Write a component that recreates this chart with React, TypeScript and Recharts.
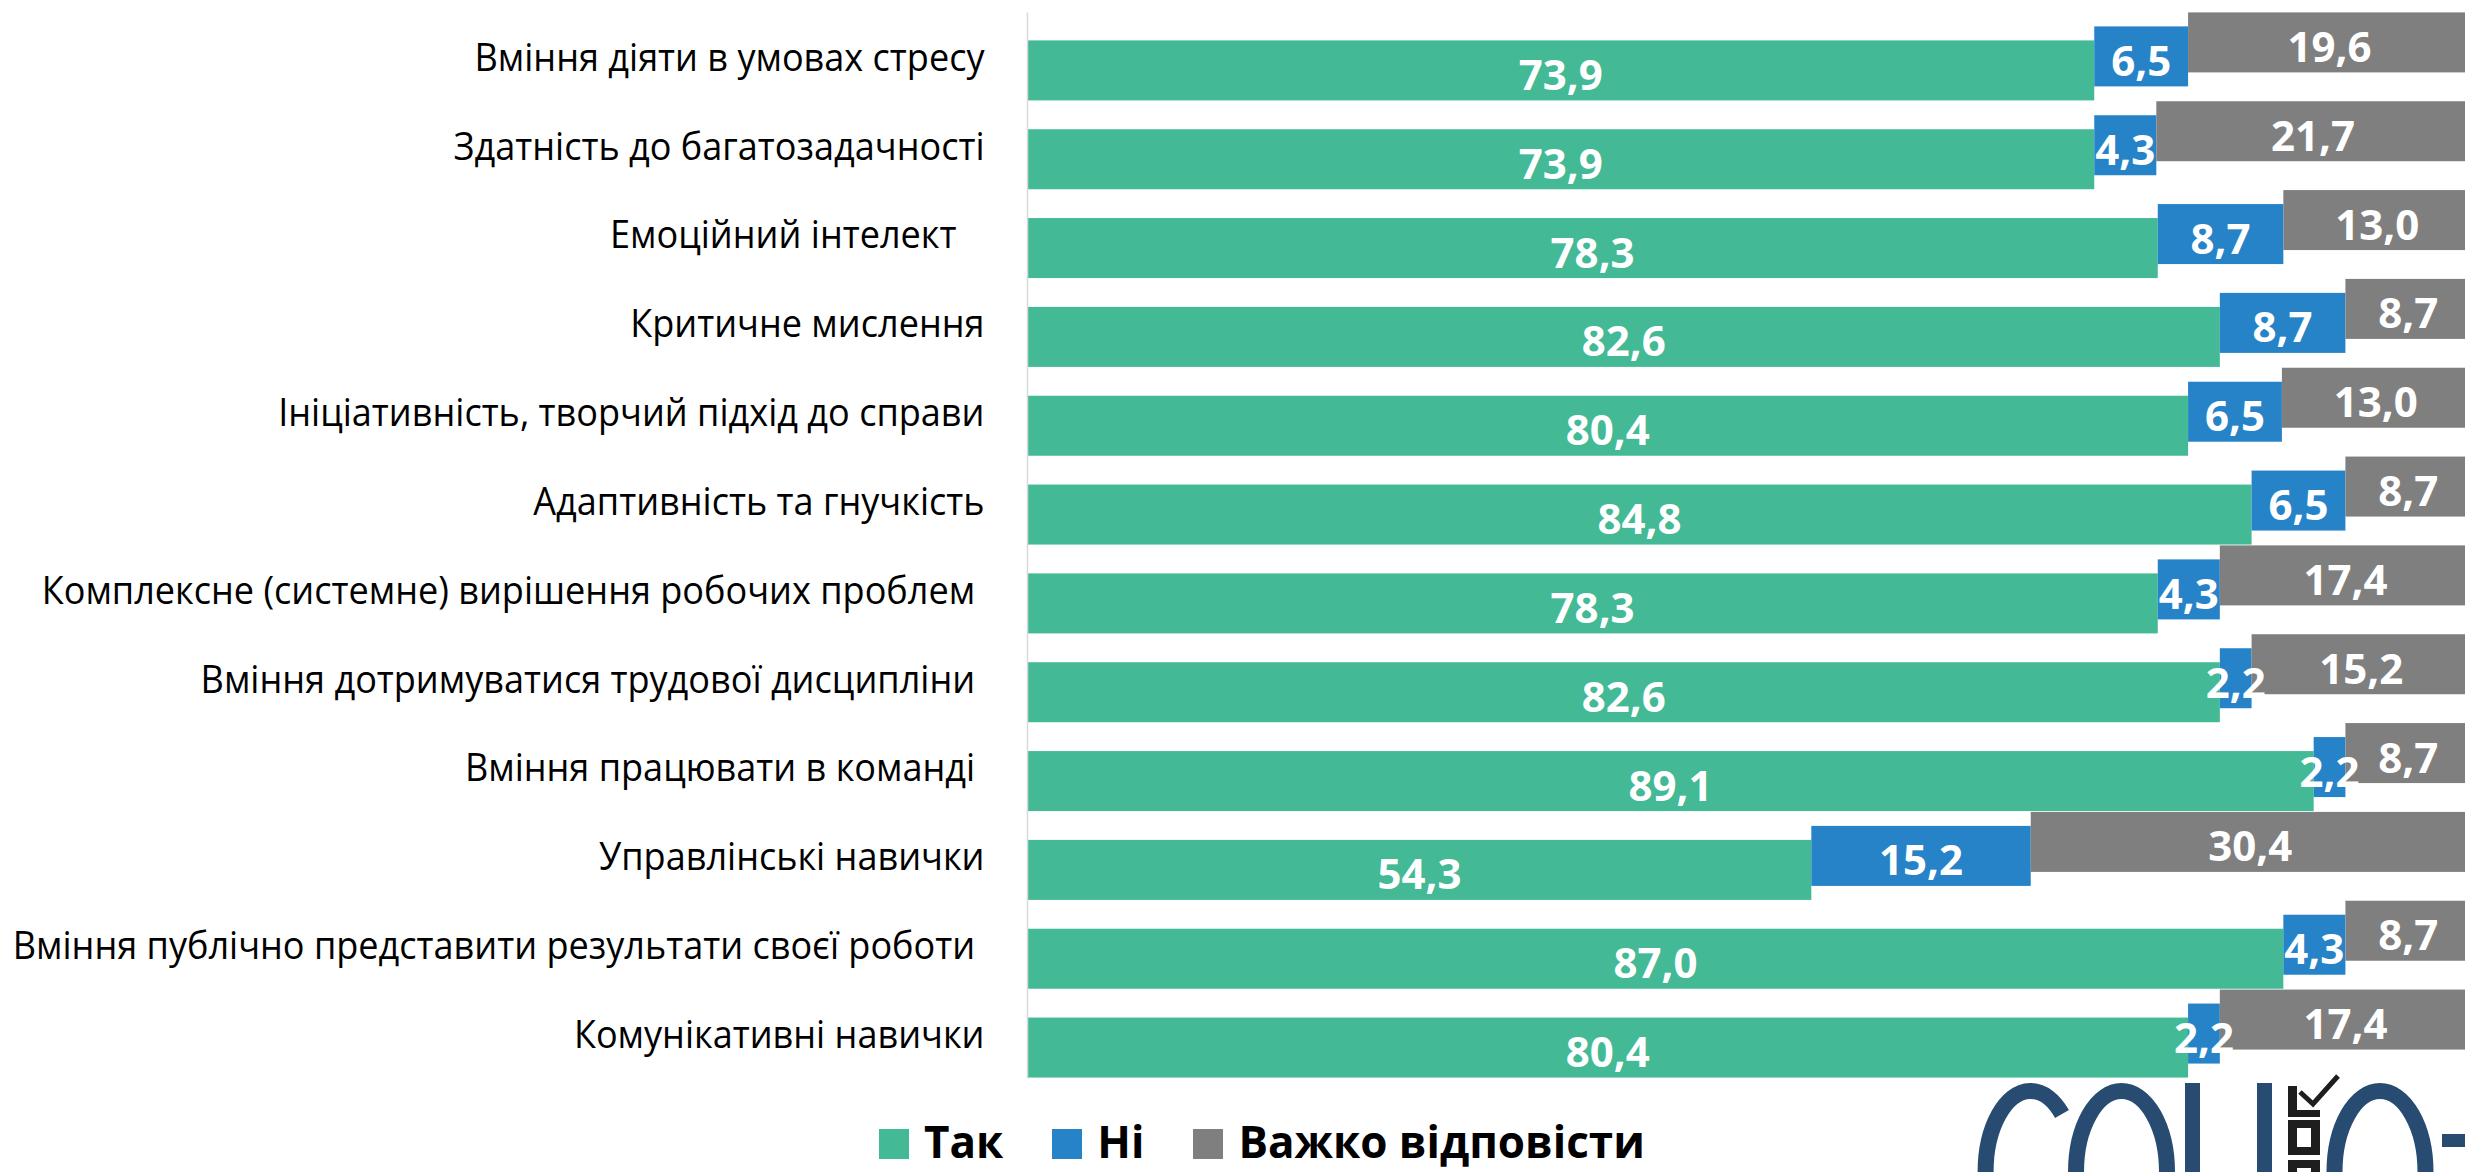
import React from 'react';
import { BarChart, Bar, XAxis, YAxis, Legend, LabelList } from 'recharts';

const categories = [
  'Вміння діяти в умовах стресу',
  'Здатність до багатозадачності',
  'Емоційний інтелект   ',
  'Критичне мислення',
  'Ініціативність, творчий підхід до справи',
  'Адаптивність та гнучкість',
  'Комплексне (системне) вирішення робочих проблем ',
  'Вміння дотримуватися трудової дисципліни ',
  'Вміння працювати в команді ',
  'Управлінські навички',
  'Вміння публічно представити результати своєї роботи ',
  'Комунікативні навички',
];
const yesValues = [73.9, 73.9, 78.3, 82.6, 80.4, 84.8, 78.3, 82.6, 89.1, 54.3, 87.0, 80.4];
const noValues = [6.5, 4.3, 8.7, 8.7, 6.5, 6.5, 4.3, 2.2, 2.2, 15.2, 4.3, 2.2];
const hardValues = [19.6, 21.7, 13.0, 8.7, 13.0, 8.7, 17.4, 15.2, 8.7, 30.4, 8.7, 17.4];
const seriesNames = ['Так', 'Ні', 'Важко відповісти'];

const GREEN = '#43B995';
const BLUE = '#2783C7';
const GRAY = '#7F7F7F';
const seriesColors = [GREEN, BLUE, GRAY];

const data = categories.map((name, i) => ({
  name,
  yes: yesValues[i],
  no: noValues[i],
  hard: hardValues[i],
}));

const fmt = (v: number) => Number(v).toFixed(1).replace('.', ',');

const makeShape = (dy: number) => (props: any) => {
  const { x, y, width, height, fill } = props;
  if (!width || width <= 0) return <g />;
  return <rect x={x} y={y + dy} width={width} height={height} fill={fill} />;
};

const makeLabel = (dy: number) => (props: any) => {
  const { x, y, width, height, value } = props;
  return (
    <text
      x={Number(x) + Number(width) / 2}
      y={Number(y) + dy + Number(height) / 2 + 19.5}
      textAnchor="middle"
      fill="#FFFFFF"
      fontFamily="Open Sans"
      fontWeight={700}
      fontSize={42}
    >
      {fmt(value)}
    </text>
  );
};

const CategoryTick = (props: any) => {
  const { x, y, payload } = props;
  return (
    <g transform={`translate(${x},${Number(y) + 14})`}>
      <text
        transform="scale(0.925,1)"
        textAnchor="end"
        fontFamily="Open Sans"
        fontSize={39}
        fill="#000000"
        style={{ whiteSpace: 'pre' }}
      >
        {payload.value}
      </text>
    </g>
  );
};

const LegendContent = () => (
  <div
    style={{
      display: 'flex',
      alignItems: 'center',
      fontFamily: 'Open Sans',
      fontWeight: 700,
      fontSize: 44,
      lineHeight: '42px',
      height: 42,
      color: '#000',
      whiteSpace: 'nowrap',
    }}
  >
    {seriesNames.map((name, i) => (
      <div key={name} style={{ display: 'flex', alignItems: 'center', marginRight: 49 }}>
        <span
          style={{
            display: 'inline-block',
            width: 30,
            height: 30,
            background: seriesColors[i],
            marginRight: 15,
            marginTop: 6,
          }}
        />
        <span>{name}</span>
      </div>
    ))}
  </div>
);

const Logo = () => (
  <svg
    width={2465}
    height={1172}
    style={{ position: 'absolute', left: 0, top: 0, pointerEvents: 'none' }}
  >
    <g fill="none" stroke="#284B72" strokeWidth={16}>
      <path d="M 2062 1114 A 45 81 0 1 0 2062 1230" />
      <ellipse cx={2121.5} cy={1172} rx={45.5} ry={81} />
      <ellipse cx={2380} cy={1172} rx={45.5} ry={81} />
    </g>
    <g fill="#284B72">
      <rect x={2185} y={1083} width={15} height={100} />
      <rect x={2257} y={1083} width={15} height={100} />
      <rect x={2442} y={1134} width={30} height={13} />
    </g>
    <g fill="#1E1E1E">
      <rect x={2288} y={1086} width={9} height={31} />
      <rect x={2288} y={1110} width={32} height={7} />
      <rect x={2288} y={1120} width={32} height={35} />
      <rect x={2288} y={1160} width={32} height={20} />
    </g>
    <g fill="#FFFFFF">
      <rect x={2297} y={1128} width={14} height={19} />
      <rect x={2297} y={1168} width={14} height={12} />
    </g>
    <polyline points="2300,1092 2313,1104 2338,1076" fill="none" stroke="#1E1E1E" strokeWidth={5} />
  </svg>
);

export default function App() {
  return (
    <div
      style={{
        position: 'absolute',
        left: 0,
        top: 0,
        width: 2465,
        height: 1172,
        overflow: 'hidden',
        background: '#FFFFFF',
      }}
    >
      <BarChart
        width={2471}
        height={1172}
        data={data}
        layout="vertical"
        margin={{ top: 12.4, right: 0, bottom: 93.6, left: 0 }}
        barSize={60}
      >
        <XAxis type="number" domain={[0, 100]} hide />
        <YAxis
          type="category"
          dataKey="name"
          width={1027.5}
          axisLine={{ stroke: '#D9D9D9', strokeWidth: 1.5 }}
          tickLine={false}
          tickSize={0}
          tickMargin={43}
          tick={<CategoryTick />}
          interval={0}
        />
        <Legend
          verticalAlign="middle"
          align="center"
          layout="horizontal"
          content={<LegendContent />}
          wrapperStyle={{ left: 879, top: 1120, width: 1200, height: 42 }}
        />
        <Bar dataKey="yes" name={seriesNames[0]} stackId="a" fill={GREEN} shape={makeShape(14)} isAnimationActive={false}>
          <LabelList dataKey="yes" content={makeLabel(14)} />
        </Bar>
        <Bar dataKey="no" name={seriesNames[1]} stackId="a" fill={BLUE} shape={makeShape(0)} isAnimationActive={false}>
          <LabelList dataKey="no" content={makeLabel(0)} />
        </Bar>
        <Bar dataKey="hard" name={seriesNames[2]} stackId="a" fill={GRAY} shape={makeShape(-14)} isAnimationActive={false}>
          <LabelList dataKey="hard" content={makeLabel(-14)} />
        </Bar>
      </BarChart>
      <Logo />
    </div>
  );
}
